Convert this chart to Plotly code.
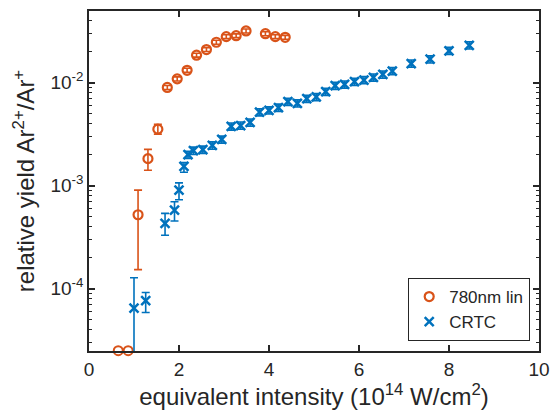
import math
import plotly.graph_objects as go

# ---- data ----
x_780 = [1.09, 1.31, 1.53, 1.74, 1.96, 2.18, 2.39, 2.61, 2.83, 3.05, 3.27, 3.49, 3.92, 4.14, 4.36]
y_780 = [5.22e-4, 1.83e-3, 3.54e-3, 9.0e-3, 1.09e-2, 1.32e-2, 1.85e-2, 2.10e-2, 2.47e-2,
         2.80e-2, 2.86e-2, 3.18e-2, 2.99e-2, 2.80e-2, 2.76e-2]
eplus_780 = [3.84e-4, 4.2e-4, 4.1e-4, 4e-4, 5e-4, 6e-4, 8e-4, 9e-4, 1.1e-3,
             1.2e-3, 1.2e-3, 1.4e-3, 1.3e-3, 1.2e-3, 1.2e-3]
eminus_780 = [3.69e-4, 4.2e-4, 3.7e-4, 4e-4, 5e-4, 6e-4, 8e-4, 9e-4, 1.1e-3,
              1.2e-3, 1.2e-3, 1.4e-3, 1.3e-3, 1.2e-3, 1.2e-3]
# points sitting on the lower axis limit
x_780_low = [0.65, 0.87]
y_780_low = [2.5e-5, 2.5e-5]

x_crtc = [1.0, 1.26, 1.69, 1.9, 2.0, 2.11, 2.2, 2.32, 2.53, 2.74, 2.95, 3.16, 3.37, 3.58,
          3.79, 4.0, 4.21, 4.42, 4.63, 4.84, 5.05, 5.26, 5.47, 5.68, 5.9, 6.11, 6.32,
          6.53, 6.74, 7.16, 7.58, 8.0, 8.45]
y_crtc = [6.46e-5, 7.66e-5, 4.31e-4, 5.79e-4, 9.06e-4, 1.54e-3, 2.0e-3, 2.19e-3, 2.24e-3,
          2.46e-3, 2.81e-3, 3.76e-3, 3.84e-3, 4.11e-3, 5.17e-3, 5.40e-3, 5.73e-3, 6.55e-3,
          6.31e-3, 7.0e-3, 7.27e-3, 8.18e-3, 9.35e-3, 9.63e-3, 1.023e-2, 1.062e-2,
          1.125e-2, 1.202e-2, 1.297e-2, 1.536e-2, 1.69e-2, 2.04e-2, 2.31e-2]
eplus_crtc = [6.3e-5, 1.5e-5, 1.07e-4, 1.18e-4, 1.58e-4, 1.4e-4, 1.6e-4, 1.8e-4, 1.8e-4,
              2.0e-4, 2.2e-4, 3.0e-4, 3.1e-4, 3.3e-4, 4.1e-4, 4.3e-4, 4.6e-4, 5.2e-4,
              5.0e-4, 5.6e-4, 5.8e-4, 6.5e-4, 7.5e-4, 7.7e-4, 8.2e-4, 8.5e-4, 9.0e-4,
              9.6e-4, 1.04e-3, 1.23e-3, 1.35e-3, 1.63e-3, 1.85e-3]
eminus_crtc = [5.5e-5, 1.8e-5, 1.01e-4, 1.25e-4, 1.76e-4, 1.9e-4, 1.6e-4, 1.8e-4, 1.8e-4,
               2.0e-4, 2.2e-4, 3.0e-4, 3.1e-4, 3.3e-4, 4.1e-4, 4.3e-4, 4.6e-4, 5.2e-4,
               5.0e-4, 5.6e-4, 5.8e-4, 6.5e-4, 7.5e-4, 7.7e-4, 8.2e-4, 8.5e-4, 9.0e-4,
               9.6e-4, 1.04e-3, 1.23e-3, 1.35e-3, 1.63e-3, 1.85e-3]

x_ticks = [0, 2, 4, 6, 8, 10]
y_ticks = [1e-4, 1e-3, 1e-2]
y_ticktext = ["10<sup>-4</sup>", "10<sup>-3</sup>", "10<sup>-2</sup>"]
y_minor = [m * 10.0 ** e for e in (-5, -4, -3, -2) for m in range(2, 10)]

ORANGE = "#D95319"
BLUE = "#0072BD"
TXT = "#262626"
FONT = "Liberation Sans, Arial, sans-serif"

fig = go.Figure()

fig.add_trace(go.Scatter(
    x=x_780, y=y_780, mode="markers", name="780nm lin",
    marker=dict(symbol="circle-open", size=9, color=ORANGE, line=dict(width=2.2, color=ORANGE)),
    error_y=dict(type="data", array=eplus_780, arrayminus=eminus_780, symmetric=False,
                 color=ORANGE, thickness=1.6, width=4),
))
fig.add_trace(go.Scatter(
    x=x_780_low, y=y_780_low, mode="markers", showlegend=False, cliponaxis=False,
    marker=dict(symbol="circle-open", size=9, color=ORANGE, line=dict(width=2, color=ORANGE)),
))
fig.add_trace(go.Scatter(
    x=x_crtc, y=y_crtc, mode="markers", name="CRTC",
    marker=dict(symbol="x-thin-open", size=9, color=BLUE, line=dict(width=2.5, color=BLUE)),
    error_y=dict(type="data", array=eplus_crtc, arrayminus=eminus_crtc, symmetric=False,
                 color=BLUE, thickness=1.6, width=4),
))

fig.update_layout(
    width=559, height=417,
    margin=dict(l=89, r=18, t=9, b=66),
    paper_bgcolor="white", plot_bgcolor="white",
    font=dict(family=FONT, size=19, color=TXT),
    showlegend=True,
    legend=dict(x=0.98, y=0.03, xanchor="right", yanchor="bottom",
                bordercolor=TXT, borderwidth=1.2, bgcolor="white",
                font=dict(size=17, color=TXT), itemwidth=30,
                tracegroupgap=0),
)
fig.update_xaxes(
    range=[0, 10], tickvals=x_ticks, ticks="inside", ticklen=6, tickwidth=1.5,
    tickcolor=TXT, showline=True, linecolor=TXT, linewidth=1.5, mirror="ticks",
    showgrid=False, zeroline=False, tickfont=dict(size=19, color=TXT),
    title=dict(text="equivalent intensity (10<sup>14</sup> W/cm<sup>2</sup>)",
               font=dict(size=24, color=TXT), standoff=6),
)
fig.update_yaxes(
    type="log", range=[math.log10(2.48e-5), math.log10(0.0497)],
    tickvals=y_ticks, ticktext=y_ticktext, ticks="inside", ticklen=6, tickwidth=1.5,
    tickcolor=TXT, showline=True, linecolor=TXT, linewidth=1.5, mirror="ticks",
    showgrid=False, zeroline=False, tickfont=dict(size=19, color=TXT),
    minor=dict(tickvals=y_minor, ticks="inside", ticklen=3.5, tickwidth=1.2, tickcolor=TXT,
               showgrid=False),
    title=dict(text="relative yield Ar<sup>2+</sup>/Ar<sup>+</sup>",
               font=dict(size=24, color=TXT), standoff=9),
)

fig.write_html("out.html", config={"displayModeBar": False},
               post_script="document.body.style.margin='0';")
